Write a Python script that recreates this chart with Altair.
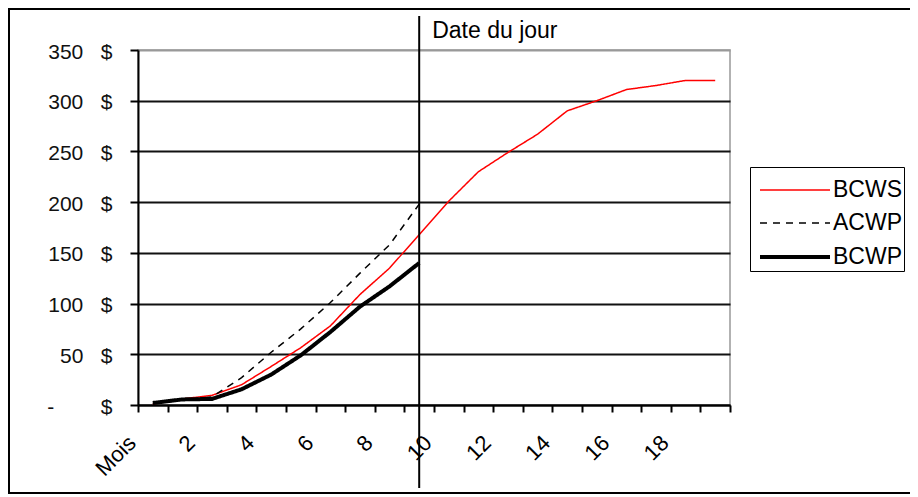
import altair as alt
import pandas as pd

months = ["Mois"] + [str(i) for i in range(1, 20)]
bcws = [1, 6, 9.5, 20, 38, 56.5, 78, 109, 135, 168, 201, 230, 249, 267, 290, 300, 311, 315, 320, 320]
acwp = [1, 5, 8, 27, 52, 75, 101, 130, 158, 198]
bcwp = [2, 5.5, 6, 15.5, 30, 49, 72, 97, 117, 140]
series = ["BCWS", "ACWP", "BCWP"]
y_ticks = [0, 50, 100, 150, 200, 250, 300, 350]
date_month = "9"
date_label = "Date du jour"

rows = []
for name, vals in zip(series, [bcws, acwp, bcwp]):
    for m, v in zip(months, vals):
        rows.append({"mois": m, "valeur": v, "serie": name})
df = pd.DataFrame(rows)

W, H = 592, 355
FONT = "Liberation Sans"
NB = "\u00a0"

xscale = alt.Scale(type="band", domain=months, paddingInner=0, paddingOuter=0)

x_axis = alt.Axis(
    title=None, tickBand="extent", labelAngle=-45, labelAlign="right",
    labelBaseline="middle", labelFontSize=22, labelFont=FONT, labelColor="#000",
    labelExpr="datum.value == 'Mois' || toNumber(datum.value) % 2 == 0 ? datum.value : ''",
    tickSize=7, tickColor="#000", tickWidth=2, domainColor="#000", domainWidth=2,
    labelPadding=27, labelOffset=-21, grid=False, labelOverlap=False, labelFlush=False,
)

y_axis = alt.Axis(
    title=None, values=y_ticks, format="d",
    labelExpr=f"datum.value == 0 ? '-{NB*8}$' : datum.label + '{NB*3}$'",
    labelFontSize=21, labelFont=FONT, labelColor="#111", labelPadding=18, labelOffset=2,
    tickSize=8, tickColor="#000", tickWidth=2, domainColor="#000", domainWidth=2,
    grid=True, gridColor=alt.condition("datum.value == 350", alt.value("#999999"), alt.value("#111111")),
    gridWidth=2,
)

lines = alt.Chart(df).mark_line(interpolate="linear").encode(
    x=alt.X("mois:O", scale=xscale, sort=months, axis=x_axis, bandPosition=0.5),
    y=alt.Y("valeur:Q", scale=alt.Scale(domain=[0, 350], nice=False, zero=True), axis=y_axis),
    color=alt.Color("serie:N", scale=alt.Scale(domain=series, range=["#ff0000", "#000000", "#000000"]),
                    legend=alt.Legend(title=None)),
    strokeDash=alt.StrokeDash("serie:N", scale=alt.Scale(type="ordinal", domain=series,
                                                         range=[[1, 0], [7, 6], [1, 0]]),
                              legend=alt.Legend(title=None)),
    strokeWidth=alt.StrokeWidth("serie:N", scale=alt.Scale(type="ordinal", domain=series,
                                                           range=[1.5, 1.5, 4]),
                                legend=alt.Legend(title=None)),
)

one = pd.DataFrame({"mois": [date_month], "label": [date_label]})

border = alt.Chart(one).mark_rect(filled=False, stroke="#000", strokeWidth=2).encode(
    x=alt.value(-129), x2=alt.value(800), y=alt.value(-41), y2=alt.value(443)
)

date_rule = alt.Chart(one).mark_rule(color="#000", strokeWidth=2).encode(
    x=alt.X("mois:O", scale=xscale, sort=months, bandPosition=0.5),
    y=alt.value(-34), y2=alt.value(438),
)

date_text = alt.Chart(one).mark_text(align="left", baseline="alphabetic", dx=13, fontSize=23,
                                     font=FONT, color="#000").encode(
    x=alt.X("mois:O", scale=xscale, sort=months, bandPosition=0.5),
    y=alt.value(-12), text="label:N",
)

chart = alt.layer(border, lines, date_rule, date_text).properties(
    width=W, height=H,
    autosize=alt.AutoSizeParams(type="none"),
    padding={"left": 130, "top": 42, "right": 180, "bottom": 90},
    background="white",
).configure_view(stroke="#999999", strokeWidth=1.5).configure_legend(
    orient="none", legendX=612, legendY=117, strokeColor="#000", fillColor="white",
    padding=2, labelFontSize=23, labelFont=FONT, labelColor="#000",
    symbolType="M-0.7,0H2.8", symbolSize=1600, labelOffset=37, rowPadding=0,
    symbolStrokeColor="#000",
)

chart.save("out.html", embed_options={"renderer": "svg", "actions": False})
